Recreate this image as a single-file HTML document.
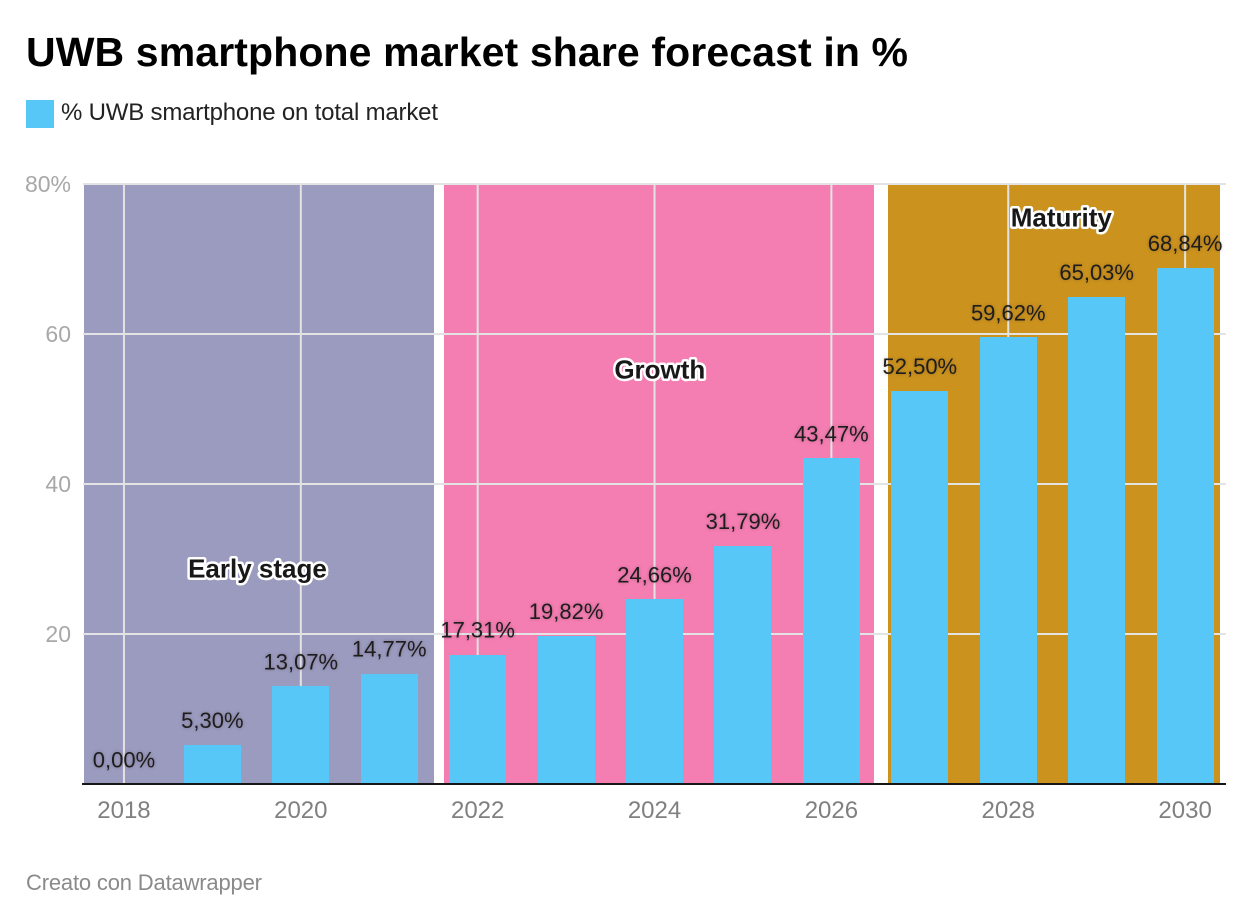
<!DOCTYPE html>
<html lang="en">
<head>
<meta charset="utf-8">
<title>UWB smartphone market share forecast in %</title>
<style>
html,body{margin:0;padding:0;background:#fff;width:1252px;height:924px;overflow:hidden}
svg{display:block;font-family:"Liberation Sans",Arial,sans-serif}
.value-label{font-size:22px;fill:#1d1d1d;text-anchor:middle;filter:drop-shadow(0 0 1.5px rgba(60,30,40,.35))}
.note{font-size:26px;font-weight:bold;fill:#181818;text-anchor:middle;stroke:#fff;stroke-width:5px;stroke-linejoin:round;paint-order:stroke fill}
.x-tick{font-size:24px;fill:#808080;text-anchor:middle}
.y-tick{font-size:23px;fill:#a8a8a8;text-anchor:end}
</style>
</head>
<body>
<svg id="chart" width="1252" height="924" viewBox="0 0 1252 924" xmlns="http://www.w3.org/2000/svg">
  <text x="26" y="66" font-size="41" font-weight="bold" fill="#000" textLength="882" lengthAdjust="spacing">UWB smartphone market share forecast in %</text>
  <rect x="26" y="100" width="28" height="28" fill="#56c7f7"/>
  <text x="61" y="120" font-size="24" fill="#222" textLength="377" lengthAdjust="spacing">% UWB smartphone on total market</text>
  <g id="bands"></g>
  <g id="grid"></g>
  <g id="bars"></g>
  <g id="values"></g>
  <g id="notes"></g>
  <g id="axes"></g>
  <text x="26" y="890" font-size="22" fill="#8a8a8a" textLength="236" lengthAdjust="spacing">Creato con Datawrapper</text>
</svg>
<script>
const years = [2018,2019,2020,2021,2022,2023,2024,2025,2026,2027,2028,2029,2030];
const shares = [0,5.30,13.07,14.77,17.31,19.82,24.66,31.79,43.47,52.50,59.62,65.03,68.84];
const xTickYears = [2018,2020,2022,2024,2026,2028,2030];
const yTickValues = [80,60,40,20];
const yTickLabels = ['80%','60','40','20'];
const bandNames = ['early-stage','growth','maturity'];
const bandStarts = [2017.547,2021.62,2026.64];
const bandEnds = [2021.505,2026.48,2030.4];
const bandColors = ['#9a9bbf','#f47eb2','#cb931d'];
const noteTexts = ['Early stage','Growth','Maturity'];
const noteYears = [2019.51,2024.06,2028.6];
const noteValues = [27.55,54.05,74.35];

const NS = 'http://www.w3.org/2000/svg';
const BAR_WIDTH = 57;
const xScale = function (year) { return 123.95 + (year - 2018) * 88.43; };
const yScale = function (value) { return 784 - value * 7.5; };
const mk = function (parentId, tag, attrs, text) {
  const el = document.createElementNS(NS, tag);
  Object.keys(attrs).forEach(function (k) { el.setAttribute(k, attrs[k]); });
  if (text !== undefined) { el.textContent = text; }
  document.getElementById(parentId).appendChild(el);
  return el;
};

bandNames.forEach(function (name, i) {
  const el = mk('bands', 'rect', {x: Math.round(xScale(bandStarts[i])), y: yScale(80), width: Math.round(xScale(bandEnds[i])) - Math.round(xScale(bandStarts[i])), height: yScale(0) - yScale(80), fill: bandColors[i]});
  
  
});

yTickValues.forEach(function (v) {
  const el = mk('grid', 'line', {x1: 83, x2: 1226, y1: yScale(v), y2: yScale(v), stroke: '#e3e3e3', 'stroke-width': 2});
  
  
});
xTickYears.forEach(function (yr) {
  const el = mk('grid', 'line', {x1: xScale(yr), x2: xScale(yr), y1: yScale(80), y2: yScale(0), stroke: '#e3e3e3', 'stroke-width': 2});
  
  
});

years.forEach(function (yr, i) {
  const top = Math.round(yScale(shares[i]) + 0.35);
  const bar = mk('bars', 'rect', {x: Math.round(xScale(yr) - BAR_WIDTH / 2), y: top, width: BAR_WIDTH, height: yScale(0) - top, fill: '#56c7f7'});
  
  
  const label = mk('values', 'text', {class: 'value-label', x: xScale(yr), y: yScale(shares[i]) - 16.5}, shares[i].toFixed(2).replace('.', ',') + '%');
  
  
});

noteTexts.forEach(function (t, i) {
  const note = mk('notes', 'text', {class: 'note', x: xScale(noteYears[i]), y: yScale(noteValues[i])}, t);
  
  
});

yTickValues.forEach(function (v, i) {
  const tick = mk('axes', 'text', {class: 'y-tick', x: 71, y: yScale(v) + 8}, yTickLabels[i]);
  
  
});
xTickYears.forEach(function (yr) {
  const tick = mk('axes', 'text', {class: 'x-tick', x: xScale(yr), y: 818}, String(yr));
  
  
});
const axisLine = mk('axes', 'line', {x1: 82, x2: 1226, y1: yScale(0), y2: yScale(0), stroke: '#161616', 'stroke-width': 2});


</script>
</body>
</html>
